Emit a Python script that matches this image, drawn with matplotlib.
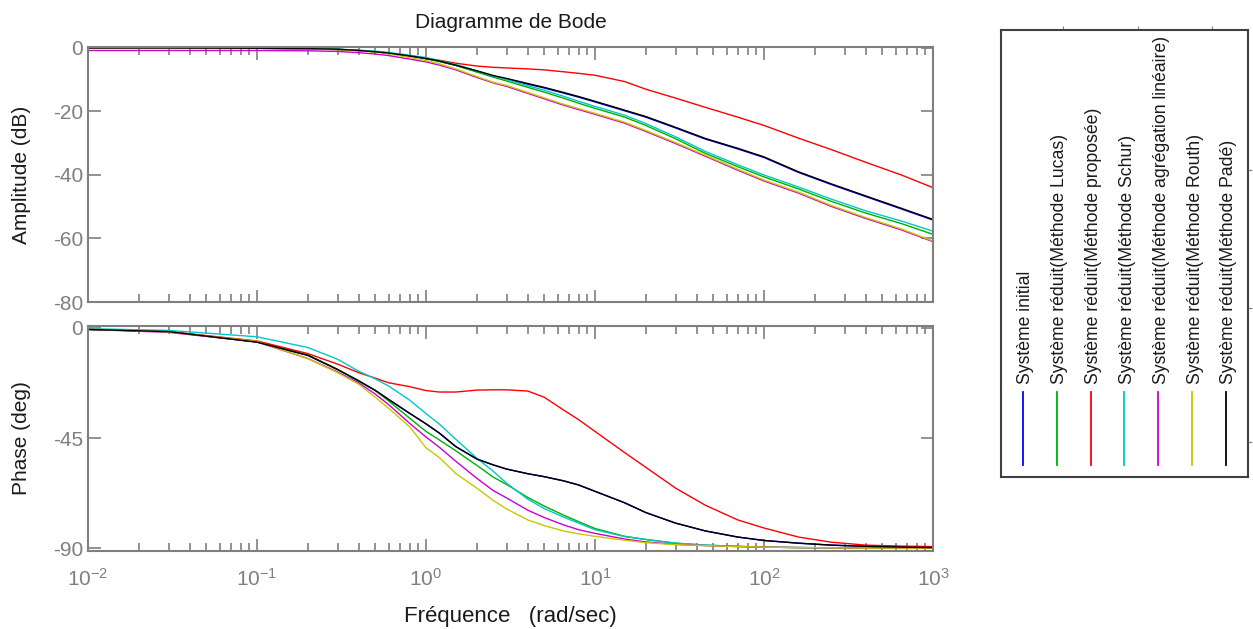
import numpy as np
import matplotlib
matplotlib.use("Agg")
import matplotlib.pyplot as plt
from matplotlib.ticker import LogLocator, NullFormatter, FixedLocator

plt.rcParams['font.family'] = ['Liberation Sans', 'DejaVu Sans']
plt.rcParams['mathtext.fontset'] = 'custom'
plt.rcParams['mathtext.rm'] = 'Liberation Sans'
plt.rcParams['mathtext.it'] = 'Liberation Sans'
plt.rcParams['axes.unicode_minus'] = False

# ---------------- data ----------------
freq = [0.01, 0.03, 0.1, 0.2, 0.3, 0.4, 0.5, 0.6, 0.8, 1.0, 1.2, 1.5, 2.0, 2.5, 3.0, 4.0,
        5.0, 6.5, 8.0, 10, 15, 20, 30, 45, 70, 100, 160, 250, 400, 650, 1000]

labels = ["Système initial",
          "Système réduit(Méthode Lucas)",
          "Système réduit(Méthode proposée)",
          "Système réduit(Méthode Schur)",
          "Système réduit(Méthode agrégation linéaire)",
          "Système réduit(Méthode Routh)",
          "Système réduit(Méthode Padé)"]
colors = ["#0000ff", "#00b000", "#ff0000", "#00c8c8", "#d000d0", "#c8c800", "#000000"]

# amplitude (dB)
mag_initial = [0, 0, -0.1, -0.2, -0.4, -0.8, -1.2, -1.6, -2.5, -3.4, -4.2, -5.5, -7.3, -8.8, -9.8, -11.4,
               -12.6, -14.2, -15.5, -17.0, -19.8, -21.8, -25.2, -28.7, -31.8, -34.5, -39.2, -43.0, -46.8, -50.7, -54.2]
mag_lucas = [0, 0, -0.1, -0.3, -0.5, -0.8, -1.2, -1.6, -2.5, -3.3, -4.3, -5.5, -7.6, -9.2, -10.4, -12.4,
             -13.9, -15.8, -17.4, -19.0, -21.8, -24.4, -28.6, -33.2, -37.4, -40.6, -44.4, -48.3, -52.0, -55.3, -58.7]
mag_proposee = [0, 0, -0.1, -0.2, -0.5, -0.8, -1.2, -1.6, -2.5, -3.2, -3.9, -4.8, -5.7, -6.1, -6.3, -6.6,
                -6.9, -7.5, -8.0, -8.6, -10.6, -13.0, -15.8, -18.7, -21.8, -24.4, -28.4, -32.0, -36.0, -40.0, -44.0]
mag_schur = [0, 0, -0.1, -0.2, -0.4, -0.7, -1.0, -1.4, -2.3, -3.0, -4.0, -5.2, -7.2, -8.8, -9.9, -11.9,
             -13.3, -15.2, -16.8, -18.4, -21.2, -23.8, -28.0, -32.6, -36.8, -40.0, -43.8, -47.6, -51.3, -54.5, -57.7]
mag_agregation = [-0.8, -0.8, -0.8, -0.9, -1.1, -1.5, -1.9, -2.4, -3.5, -4.4, -5.4, -6.9, -9.3, -11.0, -12.1, -14.3,
                  -16.0, -18.0, -19.4, -20.9, -23.7, -26.3, -30.1, -34.1, -38.5, -41.9, -45.7, -49.9, -53.7, -57.3, -61.0]
mag_routh = [0, 0, -0.1, -0.3, -0.5, -0.9, -1.3, -1.8, -3.0, -4.0, -5.0, -6.6, -9.0, -10.8, -11.8, -14.0,
             -15.7, -17.7, -19.1, -20.6, -23.4, -26.0, -29.8, -33.8, -38.2, -41.6, -45.4, -49.6, -53.4, -57.0, -60.8]
mag_pade = [0, 0, -0.1, -0.2, -0.4, -0.8, -1.2, -1.6, -2.5, -3.3, -4.1, -5.4, -7.2, -8.7, -9.6, -11.2,
            -12.4, -14.0, -15.3, -16.8, -19.6, -21.6, -25.0, -28.5, -31.6, -34.3, -39.0, -42.8, -46.6, -50.5, -54.0]

# phase (deg)
ph_initial = [-0.6, -1.5, -5.8, -11.2, -17.0, -21.7, -25.5, -29.2, -34.9, -39.2, -43.0, -48.5, -53.6, -56.0, -57.7, -59.6,
              -60.8, -62.5, -64.2, -66.8, -71.5, -75.5, -79.8, -83.0, -85.5, -86.9, -88.0, -88.8, -89.3, -89.6, -89.8]
ph_lucas = [-0.6, -1.5, -5.6, -11.0, -17.0, -21.5, -25.5, -29.8, -36.9, -42.3, -45.8, -50.2, -56.2, -61.0, -64.0, -69.3,
            -72.8, -76.5, -79.2, -82.0, -85.2, -86.5, -88.0, -88.8, -89.3, -89.6, -89.8, -89.9, -90.0, -90.0, -90.0]
ph_proposee = [-0.5, -1.5, -5.3, -10.5, -14.8, -18.3, -20.5, -22.4, -24.0, -25.6, -26.2, -26.2, -25.4, -25.3, -25.3, -25.8,
               -28.3, -33.5, -37.5, -42.3, -51.0, -57.0, -65.5, -72.5, -78.5, -81.8, -85.5, -87.6, -88.8, -89.2, -89.4]
ph_schur = [-0.3, -1.0, -3.6, -8.0, -12.8, -17.7, -20.8, -23.7, -29.5, -35.0, -39.3, -45.5, -53.3, -58.6, -63.5, -70.0,
            -73.8, -77.3, -79.8, -82.5, -85.3, -86.5, -88.0, -88.8, -89.3, -89.6, -89.8, -89.9, -90.0, -90.0, -90.0]
ph_agregation = [-0.6, -1.8, -5.7, -12.5, -18.0, -22.5, -27.0, -31.3, -39.0, -44.6, -48.8, -54.5, -61.5, -66.5, -69.5, -74.5,
                 -77.5, -80.5, -82.5, -84.0, -86.3, -87.5, -88.5, -89.0, -89.4, -89.6, -89.8, -89.9, -90.0, -90.0, -90.0]
ph_routh = [-0.5, -1.6, -5.5, -12.5, -18.3, -23.0, -28.3, -32.8, -40.4, -49.0, -53.0, -59.5, -65.5, -70.5, -74.0, -78.5,
            -80.8, -83.0, -84.2, -85.2, -86.8, -87.8, -88.6, -89.0, -89.4, -89.6, -89.8, -89.9, -90.0, -90.0, -90.0]
ph_pade = [-0.6, -1.5, -5.8, -11.2, -17.0, -21.7, -25.5, -29.2, -34.9, -39.2, -43.0, -48.5, -53.6, -56.0, -57.7, -59.6,
           -60.8, -62.5, -64.2, -66.8, -71.5, -75.5, -79.8, -83.0, -85.5, -86.9, -88.0, -88.8, -89.3, -89.6, -89.8]

mags = [mag_initial, mag_lucas, mag_proposee, mag_schur, mag_agregation, mag_routh, mag_pade]
phases = [ph_initial, ph_lucas, ph_proposee, ph_schur, ph_agregation, ph_routh, ph_pade]

xticks = [0.01, 0.1, 1, 10, 100, 1000]
xticklabels = [r"$10^{-2}$", r"$10^{-1}$", r"$10^{0}$", r"$10^{1}$", r"$10^{2}$", r"$10^{3}$"]
mag_ticks = [0, -20, -40, -60, -80]
ph_ticks = [0, -45, -90]

# ---------------- figure ----------------
W, H = 1253, 629
fig = plt.figure(figsize=(W / 100, H / 100), dpi=100)

def px_axes(x0, y0, x1, y1):
    return fig.add_axes([x0 / W, 1 - y1 / H, (x1 - x0) / W, (y1 - y0) / H])

gray = "#7f7f7f"
dark = "#1a1a1a"
ax1 = px_axes(88, 47, 933, 302)
ax2 = px_axes(88, 326, 933, 551)

for ax in (ax1, ax2):
    ax.set_xscale("log")
    ax.set_xlim(0.01, 1000)
    for sp in ax.spines.values():
        sp.set_color(gray)
        sp.set_linewidth(1.5)
    ax.tick_params(which="both", direction="in", top=True, right=True, colors=gray,
                   labelsize=15, labelcolor=gray)
    ax.tick_params(which="major", length=9, width=1.2)
    ax.tick_params(which="minor", length=6, width=1.2)
    ax.xaxis.set_major_locator(FixedLocator(xticks))
    ax.xaxis.set_minor_locator(LogLocator(base=10, subs=np.arange(2, 10)))
    ax.xaxis.set_minor_formatter(NullFormatter())

for m, c in zip(mags, colors):
    ax1.plot(freq, m, color=c, lw=1.0)
for p, c in zip(phases, colors):
    ax2.plot(freq, p, color=c, lw=1.0)

ax1.set_ylim(-80, 0.3)
ax1.set_yticks(mag_ticks)
ax1.set_xticklabels([])
ax1.set_ylabel("Amplitude (dB)", fontsize=15, color=dark)
ax1.yaxis.set_label_coords(-0.068, 0.5)
ax1.set_title("Diagramme de Bode", fontsize=15, color=dark, pad=14)

ax2.set_ylim(-91.2, 0.8)
ax2.set_yticks(ph_ticks)
ax2.set_xticklabels(xticklabels)
ax2.tick_params(axis="x", pad=12)
ax2.set_ylabel("Phase (deg)", fontsize=15, color=dark)
ax2.yaxis.set_label_coords(-0.068, 0.5)
ax2.set_xlabel("Fréquence   (rad/sec)", fontsize=16, color=dark)
ax2.xaxis.set_label_coords(0.5, -0.245)

# ---------------- rotated legend ----------------
lg = px_axes(1001, 30, 1248, 477)
lg.set_xlim(1001, 1248)
lg.set_ylim(477, 30)
lg.set_xticks([1063, 1138, 1212])
lg.set_yticks([170, 308, 442])
lg.tick_params(which="both", top=True, bottom=False, left=False, right=True,
               labeltop=False, labelbottom=False, labelleft=False, labelright=False,
               direction="out", length=3, colors=gray)
for sp in lg.spines.values():
    sp.set_color("#404040")
    sp.set_linewidth(1.5)
for i, (lab, c) in enumerate(zip(labels, colors)):
    xc = 1023 + i * 33.8
    lg.plot([xc, xc], [392, 465], color=c, lw=1.3)
    lg.text(xc + 3, 384, lab, rotation=90, ha="center", va="bottom",
            fontsize=12.7, color=dark)

fig.savefig("out.png", dpi=100)
